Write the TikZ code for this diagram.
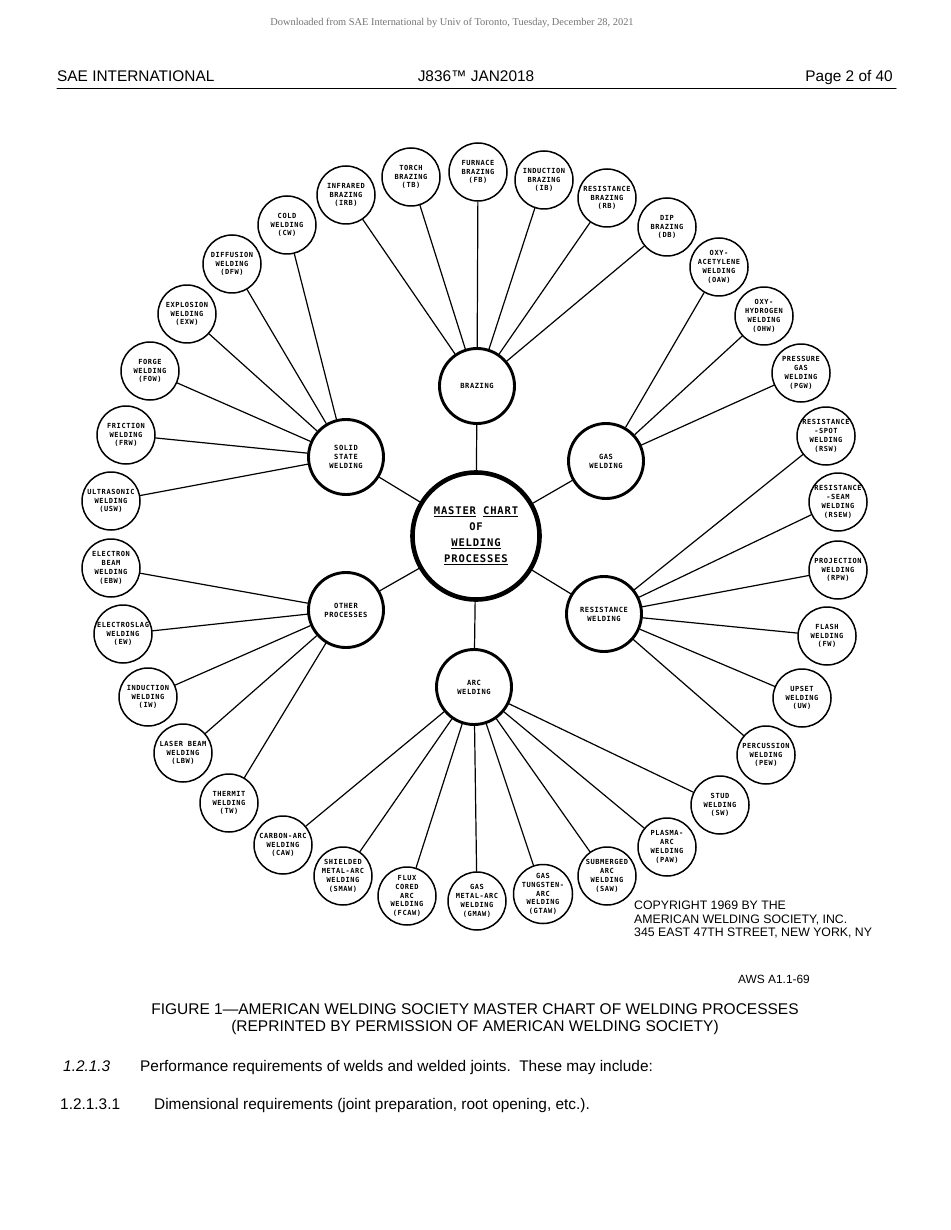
\documentclass[tikz,border=0pt]{standalone}
\usepackage{fontspec}
\setmainfont{Liberation Sans}
\newfontfamily\chartfont[LetterSpace=8]{DejaVu Sans Mono}
\newfontfamily\dlfont{Liberation Serif}
\begin{document}
\begin{tikzpicture}[x=1pt,y=-1pt,line cap=round,line join=round,
	leaf/.style={circle,draw,line width=1.5pt,minimum size=58pt,inner sep=0pt,align=center,font=\chartfont\bfseries\fontsize{7}{8.8}\selectfont},
	hub/.style={circle,draw,line width=2.9pt,minimum size=75pt,inner sep=0pt,align=center,font=\chartfont\bfseries\fontsize{7.1}{9}\selectfont},
	chief/.style={circle,draw,line width=4.6pt,minimum size=127pt,inner sep=0pt,align=center,font=\chartfont\bfseries\fontsize{10.5}{16}\selectfont},
	link/.style={line width=1.2pt},
	page/.style={inner sep=0pt,font=\fontsize{15.4}{18}\selectfont},
	small/.style={inner sep=0pt,font=\fontsize{12.3}{14}\selectfont}]
	\useasboundingbox (0,0) rectangle (950,1230);
	% page head
	\node[inner sep=0pt,anchor=base,text=black!55,font=\dlfont\fontsize{10.4}{12}\selectfont] (dl) at (452,26) {Downloaded from SAE International by Univ of Toronto, Tuesday, December 28, 2021};
	\node[page,anchor=base west] (sae) at (57,81.5) {SAE INTERNATIONAL};
	\node[page,anchor=base] (std) at (476,81.5) {J836™ JAN2018};
	\node[page,anchor=base east] (pg) at (893,81.5) {Page 2 of 40};
	\draw[line width=1pt] (57,89) -- (896,89);
	% centre and the six groups
	\node[chief] (master) at (476,536) {\underline{MASTER}\ \underline{CHART}\\OF\\\underline{WELDING}\\\underline{PROCESSES}};
	\node[hub] (brazing) at (477,386) {BRAZING};
	\node[hub] (solid) at (346,457) {SOLID\\STATE\\WELDING};
	\node[hub] (gas) at (606,461) {GAS\\WELDING};
	\node[hub] (other) at (346,610) {OTHER\\PROCESSES};
	\node[hub] (resist) at (604,614) {RESISTANCE\\WELDING};
	\node[hub] (arc) at (474,687) {ARC\\WELDING};
	\foreach \h in {brazing,solid,gas,other,resist,arc}
		\draw[link] (master) -- (\h);
	% processes
	\foreach \n/\x/\y/\t in {
		IRB/346/195/{INFRARED\\BRAZING\\(IRB)},
		TB/411/177/{TORCH\\BRAZING\\(TB)},
		FB/478/172/{FURNACE\\BRAZING\\(FB)},
		IB/544/180/{INDUCTION\\BRAZING\\(IB)},
		RB/607/198/{RESISTANCE\\BRAZING\\(RB)},
		DB/667/227/{DIP\\BRAZING\\(DB)},
		CW/287/225/{COLD\\WELDING\\(CW)},
		DFW/232/264/{DIFFUSION\\WELDING\\(DFW)},
		EXW/187/314/{EXPLOSION\\WELDING\\(EXW)},
		FOW/150/371/{FORGE\\WELDING\\(FOW)},
		FRW/126/435/{FRICTION\\WELDING\\(FRW)},
		USW/111/501/{ULTRASONIC\\WELDING\\(USW)},
		OAW/719/267/{OXY-\\ACETYLENE\\WELDING\\(OAW)},
		OHW/764/316/{OXY-\\HYDROGEN\\WELDING\\(OHW)},
		PGW/801/373/{PRESSURE\\GAS\\WELDING\\(PGW)},
		RSW/826/436/{RESISTANCE\\-SPOT\\WELDING\\(RSW)},
		RSEW/838/502/{RESISTANCE\\-SEAM\\WELDING\\(RSEW)},
		RPW/838/570/{PROJECTION\\WELDING\\(RPW)},
		FW/827/636/{FLASH\\WELDING\\(FW)},
		UW/802/698/{UPSET\\WELDING\\(UW)},
		PEW/766/755/{PERCUSSION\\WELDING\\(PEW)},
		EBW/111/568/{ELECTRON\\BEAM\\WELDING\\(EBW)},
		EW/123/634/{ELECTROSLAG\\WELDING\\(EW)},
		IW/148/697/{INDUCTION\\WELDING\\(IW)},
		LBW/183/753/{LASER BEAM\\WELDING\\(LBW)},
		TW/229/803/{THERMIT\\WELDING\\(TW)},
		CAW/283/845/{CARBON-ARC\\WELDING\\(CAW)},
		SMAW/343/876/{SHIELDED\\METAL-ARC\\WELDING\\(SMAW)},
		FCAW/407/896/{FLUX\\CORED\\ARC\\WELDING\\(FCAW)},
		GMAW/477/901/{GAS\\METAL-ARC\\WELDING\\(GMAW)},
		GTAW/543/894/{GAS\\TUNGSTEN-\\ARC\\WELDING\\(GTAW)},
		SAW/607/876/{SUBMERGED\\ARC\\WELDING\\(SAW)},
		PAW/667/847/{PLASMA-\\ARC\\WELDING\\(PAW)},
		SW/720/805/{STUD\\WELDING\\(SW)}}
		\node[leaf] (\n) at (\x,\y) {\t};
	\foreach \h/\l in {brazing/IRB,brazing/TB,brazing/FB,brazing/IB,brazing/RB,brazing/DB,
		solid/CW,solid/DFW,solid/EXW,solid/FOW,solid/FRW,solid/USW,
		gas/OAW,gas/OHW,gas/PGW,
		resist/RSW,resist/RSEW,resist/RPW,resist/FW,resist/UW,resist/PEW,
		other/EBW,other/EW,other/IW,other/LBW,other/TW,
		arc/CAW,arc/SMAW,arc/FCAW,arc/GMAW,arc/GTAW,arc/SAW,arc/PAW,arc/SW}
		\draw[link] (\h) -- (\l);
	% copyright and caption
	\node[small,anchor=base west] (cr1) at (634,909.3) {COPYRIGHT 1969 BY THE};
	\node[small,anchor=base west] (cr2) at (634,923) {AMERICAN WELDING SOCIETY, INC.};
	\node[small,anchor=base west] (cr3) at (634,936.7) {345 EAST 47TH STREET, NEW YORK, NY};
	\node[small,anchor=base west,font=\fontsize{11.9}{14}\selectfont] (aws) at (738,983.3) {AWS A1.1-69};
	\node[page,anchor=base,font=\fontsize{15.5}{18}\selectfont] (cap1) at (475,1014) {FIGURE 1—AMERICAN WELDING SOCIETY MASTER CHART OF WELDING PROCESSES};
	\node[page,anchor=base,font=\fontsize{15.5}{18}\selectfont] (cap2) at (475,1031.7) {(REPRINTED BY PERMISSION OF AMERICAN WELDING SOCIETY)};
	% body text
	\node[page,anchor=base west] (sec) at (63,1071.5) {\itshape 1.2.1.3};
	\node[page,anchor=base west] (sectxt) at (140,1071.5) {Performance requirements of welds and welded joints.\ \ These may include:};
	\node[page,anchor=base west] (sub) at (60,1109) {1.2.1.3.1};
	\node[page,anchor=base west] (subtxt) at (154,1109) {Dimensional requirements (joint preparation, root opening, etc.).};
\end{tikzpicture}
\end{document}
